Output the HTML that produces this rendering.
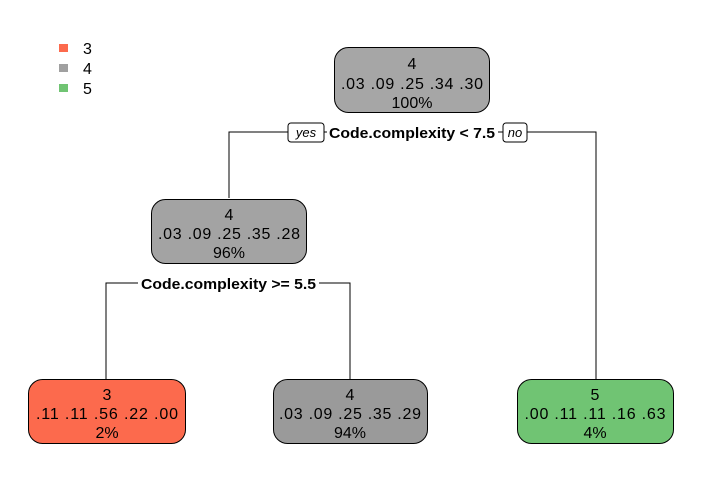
<!DOCTYPE html>
<html><head><style>
html,body{margin:0;padding:0;background:#fff;}
svg text{font-family:"Liberation Sans",Arial,sans-serif;}
</style></head><body>
<svg width="702" height="493" viewBox="0 0 702 493" xmlns="http://www.w3.org/2000/svg">
<rect width="702" height="493" fill="#fff"/>
<!-- legend -->
<rect x="59" y="44" width="9" height="8" fill="#fc6a4d"/>
<rect x="59" y="64" width="9" height="8" fill="#a0a0a0"/>
<rect x="59" y="84" width="9" height="8" fill="#70c473"/>
<g font-size="16" fill="#000">
<text x="83" y="54">3</text><text x="83" y="74">4</text><text x="83" y="94">5</text>
</g>
<!-- connectors -->
<g stroke="#000" stroke-width="1" fill="none">
<polyline points="229,198 229,132 596,132 596,379"/>
<polyline points="106,379 106,283 350,283 350,379"/>
</g>
<!-- split labels -->
<rect x="288" y="123" width="36" height="19" rx="3" fill="#fff" stroke="#000"/>
<text x="306" y="137" font-size="13" font-style="italic" text-anchor="middle">yes</text>
<rect x="503" y="123" width="24" height="19" rx="3" fill="#fff" stroke="#000"/>
<text x="515" y="137" font-size="13" font-style="italic" text-anchor="middle">no</text>
<rect x="327" y="124" width="171" height="17" fill="#fff"/>
<text x="329" y="138" font-size="15" font-weight="bold" textLength="166" lengthAdjust="spacingAndGlyphs">Code.complexity &lt; 7.5</text>
<rect x="138" y="275" width="181" height="17" fill="#fff"/>
<text x="141" y="289" font-size="15" font-weight="bold" textLength="175" lengthAdjust="spacingAndGlyphs">Code.complexity &gt;= 5.5</text>
<!-- nodes -->
<g stroke="#000" stroke-width="1">
<rect x="334.5" y="47.5" width="155" height="65" rx="14" fill="#a6a6a6"/>
<rect x="151.5" y="199.5" width="155" height="64" rx="14" fill="#a3a3a3"/>
<rect x="28.5" y="379.5" width="157" height="64" rx="14" fill="#fc6a4d"/>
<rect x="273.5" y="379.5" width="154" height="64" rx="14" fill="#9a9a9a"/>
<rect x="517.5" y="379.5" width="156" height="64" rx="14" fill="#70c473"/>
</g>
<g font-size="16" text-anchor="middle" fill="#000">
<text x="412" y="69">4</text><text x="412" y="89" textLength="142">.03 .09 .25 .34 .30</text><text x="412" y="108">100%</text>
<text x="229" y="220">4</text><text x="229" y="239" textLength="142">.03 .09 .25 .35 .28</text><text x="229" y="258">96%</text>
<text x="107" y="400">3</text><text x="107" y="419" textLength="142">.11 .11 .56 .22 .00</text><text x="107" y="438">2%</text>
<text x="350" y="400">4</text><text x="350" y="419" textLength="142">.03 .09 .25 .35 .29</text><text x="350" y="438">94%</text>
<text x="595" y="400">5</text><text x="595" y="419" textLength="141">.00 .11 .11 .16 .63</text><text x="595" y="438">4%</text>
</g>
</svg>
</body></html>
